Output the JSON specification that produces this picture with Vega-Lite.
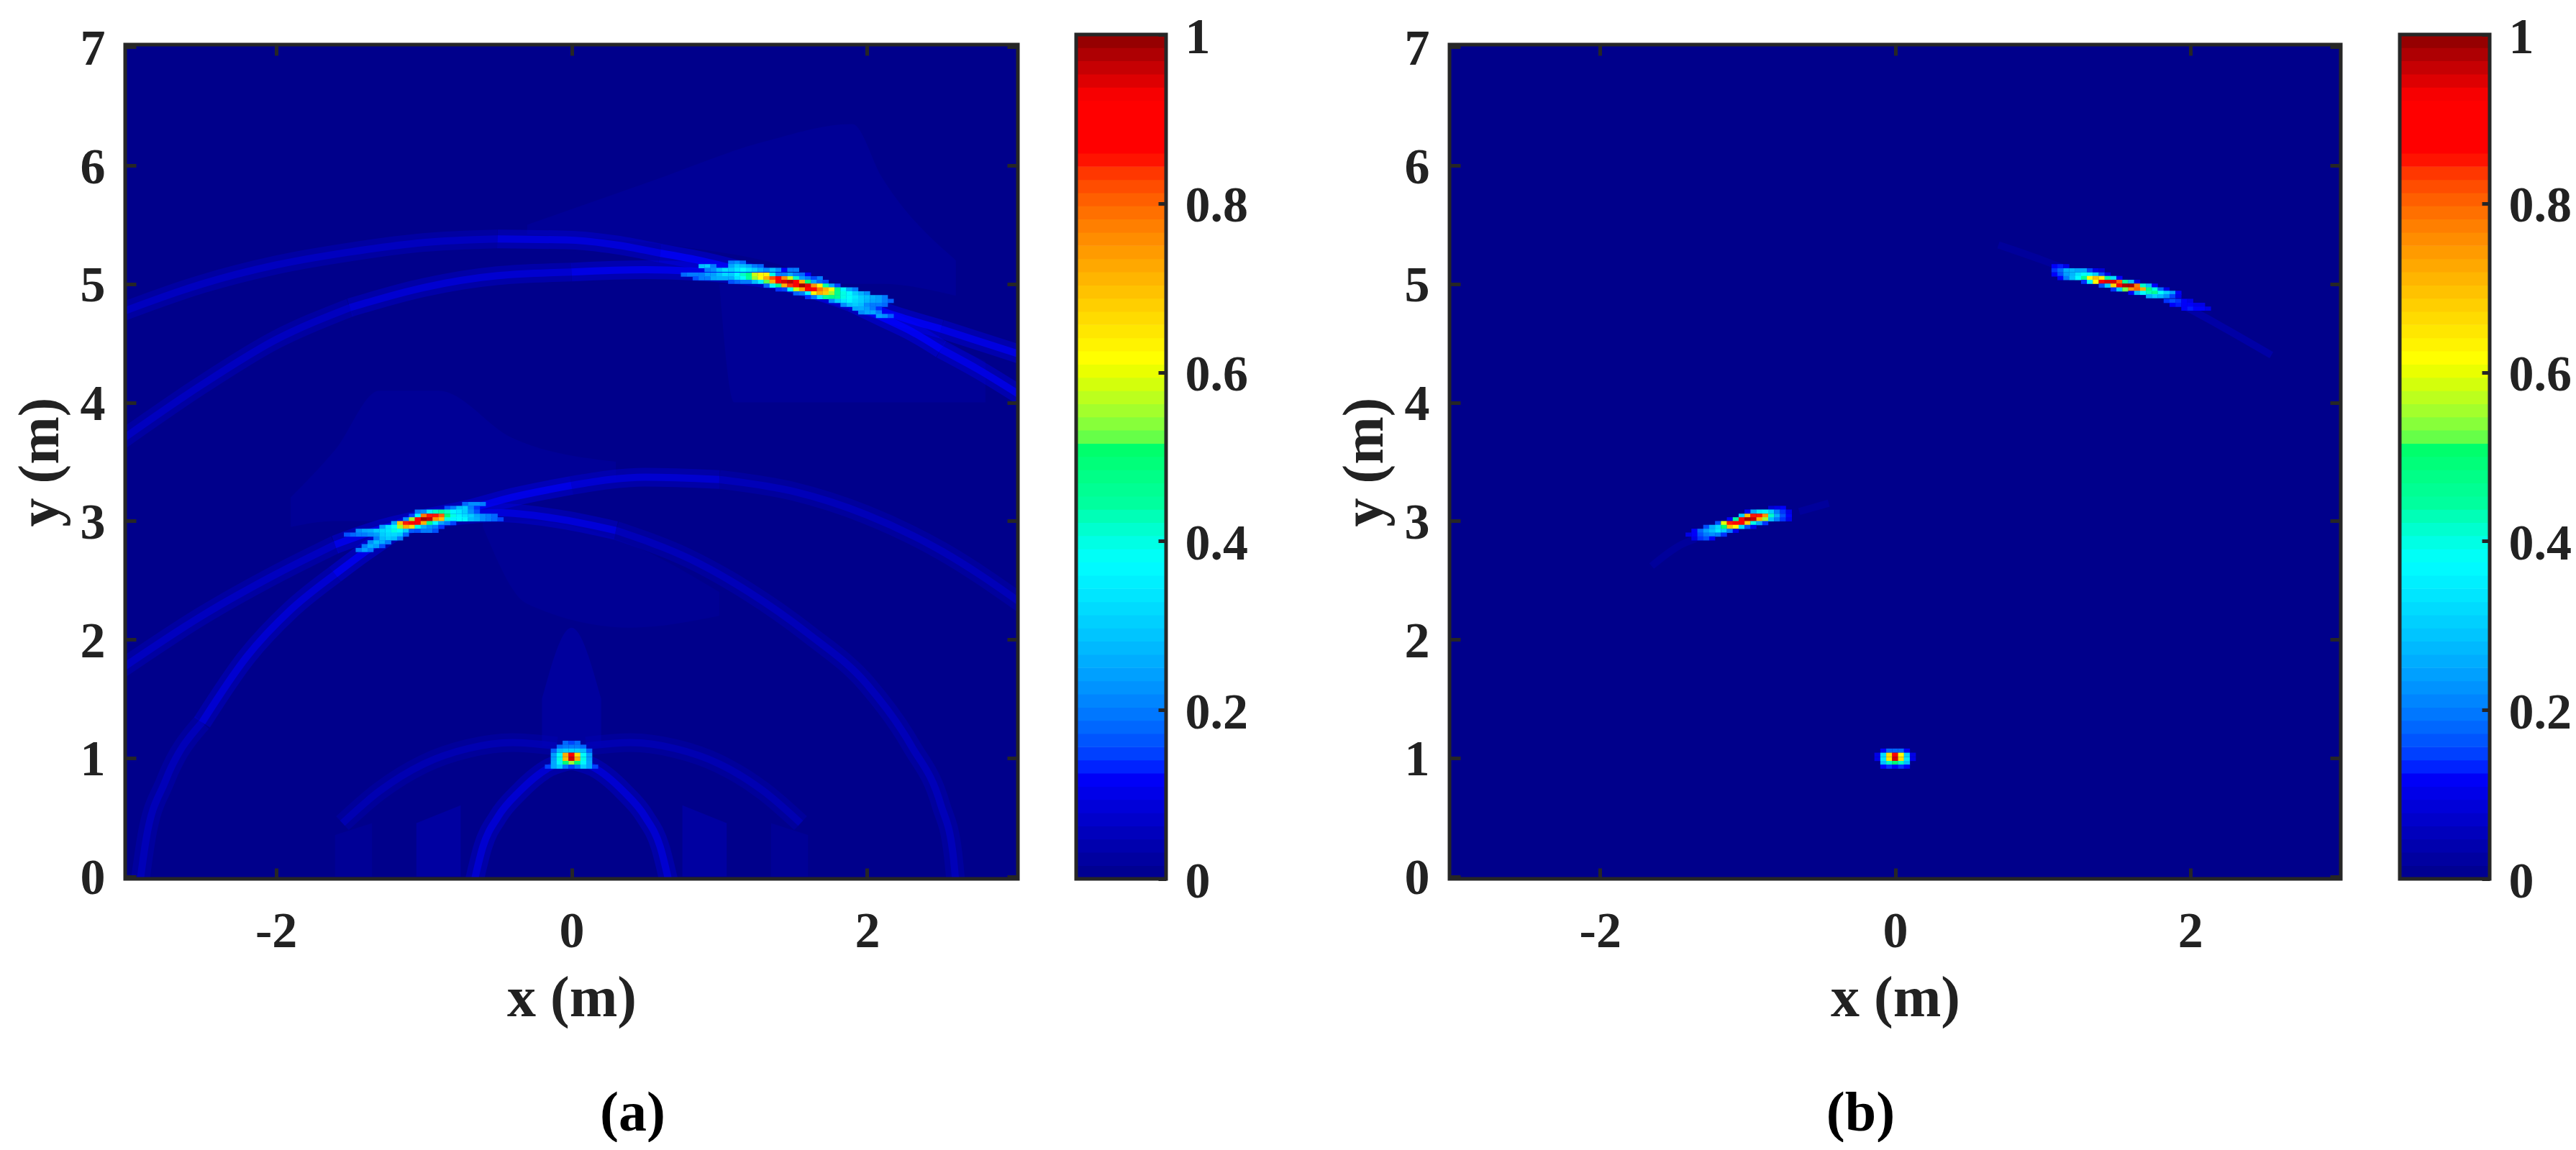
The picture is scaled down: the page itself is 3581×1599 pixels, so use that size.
{
"$schema":"https://vega.github.io/schema/vega-lite/v6.json",
"background":"white",
"padding":{"left":16,"top":17,"right":0,"bottom":0},
"config":{"view":{"stroke":null},
 "axis":{"labelFont":"Liberation Serif","labelFontWeight":"bold","labelFontSize":70,"labelColor":"#222222","titleFont":"Liberation Serif","titleFontWeight":"bold","titleFontSize":80,"titleColor":"#222222","grid":false,"domain":false,"tickColor":"#262626","tickWidth":5,"tickSize":-15,"labelExpr":"''+datum.value"}},
"datasets":{
"box":[{"x":-3.02,"x2":3.02,"y":-0.02,"y2":7.02,"v":0}],
"barbox":[{"lo":0,"hi":1}],
"bands":[{"v":0.0078},{"v":0.0234},{"v":0.0391},{"v":0.0547},{"v":0.0703},{"v":0.0859},{"v":0.1016},{"v":0.1172},{"v":0.1328},{"v":0.1484},{"v":0.1641},{"v":0.1797},{"v":0.1953},{"v":0.2109},{"v":0.2266},{"v":0.2422},{"v":0.2578},{"v":0.2734},{"v":0.2891},{"v":0.3047},{"v":0.3203},{"v":0.3359},{"v":0.3516},{"v":0.3672},{"v":0.3828},{"v":0.3984},{"v":0.4141},{"v":0.4297},{"v":0.4453},{"v":0.4609},{"v":0.4766},{"v":0.4922},{"v":0.5078},{"v":0.5234},{"v":0.5391},{"v":0.5547},{"v":0.5703},{"v":0.5859},{"v":0.6016},{"v":0.6172},{"v":0.6328},{"v":0.6484},{"v":0.6641},{"v":0.6797},{"v":0.6953},{"v":0.7109},{"v":0.7266},{"v":0.7422},{"v":0.7578},{"v":0.7734},{"v":0.7891},{"v":0.8047},{"v":0.8203},{"v":0.8359},{"v":0.8516},{"v":0.8672},{"v":0.8828},{"v":0.8984},{"v":0.9141},{"v":0.9297},{"v":0.9453},{"v":0.9609},{"v":0.9766},{"v":0.9922}],
"hazeA":[
{"g":"h1","x":-0.3,"y":5.42,"y2":5.5,"v":0.012},{"g":"h1","x":0.5,"y":5.35,"y2":5.85,"v":0.012},{"g":"h1","x":1.3,"y":5.2,"y2":6.2,"v":0.012},{"g":"h1","x":1.9,"y":5,"y2":6.35,"v":0.012},{"g":"h1","x":2.1,"y":5,"y2":5.9,"v":0.012},{"g":"h1","x":2.6,"y":4.9,"y2":5.2,"v":0.012},
{"g":"h2","x":1,"y":5,"y2":5,"v":0.012},{"g":"h2","x":1.1,"y":4,"y2":5,"v":0.012},{"g":"h2","x":1.9,"y":4,"y2":4.8,"v":0.012},{"g":"h2","x":2.8,"y":4,"y2":4.35,"v":0.012},
{"g":"h3","x":-1.9,"y":2.95,"y2":3.2,"v":0.012},{"g":"h3","x":-1.6,"y":3,"y2":3.6,"v":0.012},{"g":"h3","x":-1.3,"y":3,"y2":4.1,"v":0.012},{"g":"h3","x":-0.9,"y":3.05,"y2":4.1,"v":0.012},{"g":"h3","x":-0.4,"y":3.2,"y2":3.7,"v":0.012},{"g":"h3","x":0.3,"y":3.35,"y2":3.5,"v":0.012},
{"g":"h4","x":-0.6,"y":2.95,"y2":3,"v":0.01},{"g":"h4","x":-0.3,"y":2.3,"y2":3,"v":0.01},{"g":"h4","x":0.4,"y":2.1,"y2":2.8,"v":0.01},{"g":"h4","x":1,"y":2.2,"y2":2.4,"v":0.01},
{"g":"h5","x":-0.2,"y":1.1,"y2":1.5,"v":0.02},{"g":"h5","x":0,"y":1.1,"y2":2.1,"v":0.02},{"g":"h5","x":0.2,"y":1.1,"y2":1.5,"v":0.02},
{"g":"h6","x":-1.05,"y":0,"y2":0.45,"v":0.025},{"g":"h6","x":-0.75,"y":0,"y2":0.6,"v":0.025},
{"g":"h7","x":0.75,"y":0,"y2":0.6,"v":0.025},{"g":"h7","x":1.05,"y":0,"y2":0.45,"v":0.025},
{"g":"h8","x":-1.6,"y":0,"y2":0.35,"v":0.012},{"g":"h8","x":-1.35,"y":0,"y2":0.45,"v":0.012},
{"g":"h9","x":1.35,"y":0,"y2":0.45,"v":0.012},{"g":"h9","x":1.6,"y":0,"y2":0.35,"v":0.012}
],
"arcsA":[
{"arc":"A1","x":-3.05,"y":4.76,"v":0.07},{"arc":"A1","x":-2.5,"y":5,"v":0.07},{"arc":"A1","x":-2,"y":5.16,"v":0.07},{"arc":"A1","x":-1.5,"y":5.27,"v":0.07},{"arc":"A1","x":-1,"y":5.35,"v":0.07},{"arc":"A1","x":-0.5,"y":5.38,"v":0.07},
{"arc":"A2","x":-0.5,"y":5.38,"v":0.1},{"arc":"A2","x":0,"y":5.37,"v":0.1},{"arc":"A2","x":0.3,"y":5.33,"v":0.1},{"arc":"A2","x":0.6,"y":5.26,"v":0.1},
{"arc":"A3","x":0.6,"y":5.26,"v":0.125},{"arc":"A3","x":0.9,"y":5.19,"v":0.125},{"arc":"A3","x":1.1,"y":5.13,"v":0.125},{"arc":"A3","x":1.5,"y":5,"v":0.125},{"arc":"A3","x":1.9,"y":4.86,"v":0.125},
{"arc":"A4","x":1.9,"y":4.86,"v":0.125},{"arc":"A4","x":2.2,"y":4.73,"v":0.125},{"arc":"A4","x":2.5,"y":4.62,"v":0.125},
{"arc":"A5","x":2.5,"y":4.62,"v":0.11},{"arc":"A5","x":2.75,"y":4.52,"v":0.11},{"arc":"A5","x":3.05,"y":4.4,"v":0.11},
{"arc":"B1","x":-3.05,"y":3.68,"v":0.07},{"arc":"B1","x":-2.5,"y":4.15,"v":0.07},{"arc":"B1","x":-2,"y":4.53,"v":0.07},{"arc":"B1","x":-1.5,"y":4.8,"v":0.07},
{"arc":"B2","x":-1.5,"y":4.8,"v":0.09},{"arc":"B2","x":-1,"y":4.97,"v":0.09},{"arc":"B2","x":-0.5,"y":5.07,"v":0.09},{"arc":"B2","x":0,"y":5.1,"v":0.09},
{"arc":"B3","x":0,"y":5.1,"v":0.115},{"arc":"B3","x":0.5,"y":5.12,"v":0.115},{"arc":"B3","x":0.8,"y":5.11,"v":0.115},{"arc":"B3","x":1.1,"y":5.08,"v":0.115},{"arc":"B3","x":1.5,"y":5,"v":0.115},{"arc":"B3","x":1.9,"y":4.84,"v":0.115},
{"arc":"B4","x":1.9,"y":4.84,"v":0.125},{"arc":"B4","x":2.1,"y":4.72,"v":0.125},{"arc":"B4","x":2.3,"y":4.6,"v":0.125},{"arc":"B4","x":2.5,"y":4.45,"v":0.125},
{"arc":"B5","x":2.5,"y":4.45,"v":0.11},{"arc":"B5","x":2.75,"y":4.28,"v":0.11},{"arc":"B5","x":3.05,"y":4.05,"v":0.11},
{"arc":"C1","x":-3.05,"y":1.75,"v":0.07},{"arc":"C1","x":-2.5,"y":2.2,"v":0.07},{"arc":"C1","x":-2,"y":2.55,"v":0.07},{"arc":"C1","x":-1.6,"y":2.8,"v":0.07},
{"arc":"C2","x":-1.6,"y":2.8,"v":0.115},{"arc":"C2","x":-1.3,"y":2.93,"v":0.115},{"arc":"C2","x":-1,"y":3.02,"v":0.115},{"arc":"C2","x":-0.7,"y":3.1,"v":0.115},{"arc":"C2","x":-0.4,"y":3.2,"v":0.115},{"arc":"C2","x":0,"y":3.3,"v":0.115},
{"arc":"C3","x":0,"y":3.3,"v":0.09},{"arc":"C3","x":0.5,"y":3.37,"v":0.09},{"arc":"C3","x":1,"y":3.35,"v":0.09},
{"arc":"C4","x":1,"y":3.35,"v":0.06},{"arc":"C4","x":1.5,"y":3.25,"v":0.06},{"arc":"C4","x":2,"y":3.05,"v":0.06},{"arc":"C4","x":2.5,"y":2.75,"v":0.06},{"arc":"C4","x":3.05,"y":2.3,"v":0.06},
{"arc":"D1","x":-2.92,"y":-0.05,"v":0.06},{"arc":"D1","x":-2.88,"y":0.3,"v":0.06},{"arc":"D1","x":-2.75,"y":0.8,"v":0.06},{"arc":"D1","x":-2.5,"y":1.3,"v":0.06},
{"arc":"D2","x":-2.5,"y":1.3,"v":0.09},{"arc":"D2","x":-2.2,"y":1.85,"v":0.09},{"arc":"D2","x":-1.9,"y":2.25,"v":0.09},{"arc":"D2","x":-1.6,"y":2.55,"v":0.09},
{"arc":"D3","x":-1.6,"y":2.55,"v":0.12},{"arc":"D3","x":-1.35,"y":2.78,"v":0.12},{"arc":"D3","x":-1.1,"y":2.97,"v":0.12},{"arc":"D3","x":-0.8,"y":3.04,"v":0.12},
{"arc":"D4","x":-0.8,"y":3.04,"v":0.1},{"arc":"D4","x":-0.5,"y":3.07,"v":0.1},{"arc":"D4","x":-0.1,"y":3.02,"v":0.1},{"arc":"D4","x":0.3,"y":2.92,"v":0.1},
{"arc":"D5","x":0.3,"y":2.92,"v":0.06},{"arc":"D5","x":0.8,"y":2.68,"v":0.06},{"arc":"D5","x":1.2,"y":2.4,"v":0.06},{"arc":"D5","x":1.6,"y":2.05,"v":0.06},{"arc":"D5","x":2,"y":1.62,"v":0.06},{"arc":"D5","x":2.3,"y":1.1,"v":0.06},{"arc":"D5","x":2.5,"y":0.6,"v":0.06},{"arc":"D5","x":2.58,"y":0.2,"v":0.06},{"arc":"D5","x":2.6,"y":-0.05,"v":0.06},
{"arc":"E1","x":-0.66,"y":-0.05,"v":0.09},{"arc":"E1","x":-0.6,"y":0.25,"v":0.09},{"arc":"E1","x":-0.5,"y":0.5,"v":0.09},{"arc":"E1","x":-0.35,"y":0.72,"v":0.09},{"arc":"E1","x":-0.15,"y":0.92,"v":0.09},{"arc":"E1","x":0,"y":0.98,"v":0.09},
{"arc":"E2","x":0,"y":0.98,"v":0.09},{"arc":"E2","x":0.15,"y":0.92,"v":0.09},{"arc":"E2","x":0.35,"y":0.72,"v":0.09},{"arc":"E2","x":0.5,"y":0.5,"v":0.09},{"arc":"E2","x":0.6,"y":0.25,"v":0.09},{"arc":"E2","x":0.66,"y":-0.05,"v":0.09},
{"arc":"F1","x":-1.55,"y":0.45,"v":0.05},{"arc":"F1","x":-1.3,"y":0.72,"v":0.05},{"arc":"F1","x":-1,"y":0.95,"v":0.05},{"arc":"F1","x":-0.7,"y":1.08,"v":0.05},{"arc":"F1","x":-0.4,"y":1.13,"v":0.05},{"arc":"F1","x":-0.1,"y":1.1,"v":0.05},
{"arc":"F2","x":0.1,"y":1.1,"v":0.05},{"arc":"F2","x":0.4,"y":1.13,"v":0.05},{"arc":"F2","x":0.7,"y":1.08,"v":0.05},{"arc":"F2","x":1,"y":0.95,"v":0.05},{"arc":"F2","x":1.3,"y":0.72,"v":0.05},{"arc":"F2","x":1.55,"y":0.45,"v":0.05}
],
"arcsB":[
{"arc":"T1","x":0.7,"y":5.33,"v":0.03},{"arc":"T1","x":1,"y":5.2,"v":0.03},{"arc":"T1","x":1.15,"y":5.13,"v":0.03},
{"arc":"T2","x":1.95,"y":4.82,"v":0.05},{"arc":"T2","x":2.2,"y":4.65,"v":0.05},{"arc":"T2","x":2.55,"y":4.4,"v":0.05},
{"arc":"T3","x":-1.65,"y":2.62,"v":0.03},{"arc":"T3","x":-1.45,"y":2.8,"v":0.03},{"arc":"T3","x":-1.35,"y":2.85,"v":0.03},
{"arc":"T4","x":-0.65,"y":3.08,"v":0.03},{"arc":"T4","x":-0.45,"y":3.15,"v":0.03}
],
"cellsA":[
{"x":1.08,"y":5.18,"v":0.2},{"x":1.12,"y":5.18,"v":0.22},{"x":1.16,"y":5.18,"v":0.18},
{"x":0.88,"y":5.15,"v":0.28},{"x":0.92,"y":5.15,"v":0.3},{"x":0.96,"y":5.15,"v":0.2},{"x":1.08,"y":5.15,"v":0.25},{"x":1.12,"y":5.15,"v":0.3},{"x":1.16,"y":5.15,"v":0.28},{"x":1.2,"y":5.15,"v":0.25},{"x":1.24,"y":5.15,"v":0.2},{"x":1.28,"y":5.15,"v":0.18},
{"x":0.92,"y":5.119,"v":0.2},{"x":0.96,"y":5.119,"v":0.22},{"x":1,"y":5.119,"v":0.28},{"x":1.04,"y":5.119,"v":0.32},{"x":1.08,"y":5.119,"v":0.3},{"x":1.12,"y":5.119,"v":0.34},{"x":1.16,"y":5.119,"v":0.37},{"x":1.2,"y":5.119,"v":0.33},{"x":1.24,"y":5.119,"v":0.3},{"x":1.28,"y":5.119,"v":0.26},{"x":1.32,"y":5.119,"v":0.22},{"x":1.36,"y":5.119,"v":0.28},{"x":1.4,"y":5.119,"v":0.22},{"x":1.44,"y":5.119,"v":0.12},{"x":1.48,"y":5.119,"v":0.2},{"x":1.52,"y":5.119,"v":0.2},
{"x":0.76,"y":5.079,"v":0.18},{"x":0.8,"y":5.079,"v":0.2},{"x":0.84,"y":5.079,"v":0.2},{"x":0.88,"y":5.079,"v":0.2},{"x":0.92,"y":5.079,"v":0.24},{"x":0.96,"y":5.079,"v":0.24},{"x":1,"y":5.079,"v":0.28},{"x":1.04,"y":5.079,"v":0.32},{"x":1.08,"y":5.079,"v":0.3},{"x":1.12,"y":5.079,"v":0.36},{"x":1.16,"y":5.079,"v":0.42},{"x":1.2,"y":5.079,"v":0.47},{"x":1.24,"y":5.079,"v":0.58},{"x":1.28,"y":5.079,"v":0.63},{"x":1.32,"y":5.079,"v":0.63},{"x":1.36,"y":5.079,"v":0.4},{"x":1.4,"y":5.079,"v":0.2},{"x":1.44,"y":5.079,"v":0.2},{"x":1.48,"y":5.079,"v":0.25},{"x":1.52,"y":5.079,"v":0.2},{"x":1.56,"y":5.079,"v":0.18},{"x":1.6,"y":5.079,"v":0.12},
{"x":0.84,"y":5.048,"v":0.16},{"x":0.88,"y":5.048,"v":0.2},{"x":0.92,"y":5.048,"v":0.2},{"x":0.96,"y":5.048,"v":0.25},{"x":1,"y":5.048,"v":0.26},{"x":1.04,"y":5.048,"v":0.26},{"x":1.08,"y":5.048,"v":0.26},{"x":1.12,"y":5.048,"v":0.33},{"x":1.16,"y":5.048,"v":0.38},{"x":1.2,"y":5.048,"v":0.45},{"x":1.24,"y":5.048,"v":0.55},{"x":1.28,"y":5.048,"v":0.62},{"x":1.32,"y":5.048,"v":0.72},{"x":1.36,"y":5.048,"v":0.82},{"x":1.4,"y":5.048,"v":0.87},{"x":1.44,"y":5.048,"v":0.76},{"x":1.48,"y":5.048,"v":0.58},{"x":1.52,"y":5.048,"v":0.42},{"x":1.56,"y":5.048,"v":0.24},{"x":1.6,"y":5.048,"v":0.2},{"x":1.64,"y":5.048,"v":0.15},{"x":1.68,"y":5.048,"v":0.2},
{"x":1.08,"y":5.018,"v":0.16},{"x":1.12,"y":5.018,"v":0.18},{"x":1.16,"y":5.018,"v":0.2},{"x":1.2,"y":5.018,"v":0.2},{"x":1.24,"y":5.018,"v":0.28},{"x":1.28,"y":5.018,"v":0.36},{"x":1.32,"y":5.018,"v":0.52},{"x":1.36,"y":5.018,"v":0.72},{"x":1.4,"y":5.018,"v":0.88},{"x":1.44,"y":5.018,"v":0.95},{"x":1.48,"y":5.018,"v":0.97},{"x":1.52,"y":5.018,"v":0.9},{"x":1.56,"y":5.018,"v":0.72},{"x":1.6,"y":5.018,"v":0.5},{"x":1.64,"y":5.018,"v":0.25},{"x":1.68,"y":5.018,"v":0.18},{"x":1.72,"y":5.018,"v":0.15},
{"x":1.32,"y":4.986,"v":0.18},{"x":1.36,"y":4.986,"v":0.36},{"x":1.4,"y":4.986,"v":0.47},{"x":1.44,"y":4.986,"v":0.72},{"x":1.48,"y":4.986,"v":0.84},{"x":1.52,"y":4.986,"v":0.92},{"x":1.56,"y":4.986,"v":0.99},{"x":1.6,"y":4.986,"v":0.94},{"x":1.64,"y":4.986,"v":0.75},{"x":1.68,"y":4.986,"v":0.63},{"x":1.72,"y":4.986,"v":0.44},{"x":1.76,"y":4.986,"v":0.25},{"x":1.8,"y":4.986,"v":0.15},
{"x":1.4,"y":4.954,"v":0.14},{"x":1.44,"y":4.954,"v":0.15},{"x":1.48,"y":4.954,"v":0.38},{"x":1.52,"y":4.954,"v":0.58},{"x":1.56,"y":4.954,"v":0.74},{"x":1.6,"y":4.954,"v":0.86},{"x":1.64,"y":4.954,"v":0.91},{"x":1.68,"y":4.954,"v":0.78},{"x":1.72,"y":4.954,"v":0.71},{"x":1.76,"y":4.954,"v":0.63},{"x":1.8,"y":4.954,"v":0.48},{"x":1.84,"y":4.954,"v":0.36},{"x":1.88,"y":4.954,"v":0.25},{"x":1.92,"y":4.954,"v":0.2},
{"x":1.52,"y":4.921,"v":0.18},{"x":1.56,"y":4.921,"v":0.2},{"x":1.6,"y":4.921,"v":0.36},{"x":1.64,"y":4.921,"v":0.63},{"x":1.68,"y":4.921,"v":0.72},{"x":1.72,"y":4.921,"v":0.68},{"x":1.76,"y":4.921,"v":0.55},{"x":1.8,"y":4.921,"v":0.47},{"x":1.84,"y":4.921,"v":0.4},{"x":1.88,"y":4.921,"v":0.37},{"x":1.92,"y":4.921,"v":0.3},{"x":1.96,"y":4.921,"v":0.26},{"x":2,"y":4.921,"v":0.22},
{"x":1.6,"y":4.889,"v":0.14},{"x":1.64,"y":4.889,"v":0.2},{"x":1.68,"y":4.889,"v":0.34},{"x":1.72,"y":4.889,"v":0.45},{"x":1.76,"y":4.889,"v":0.48},{"x":1.8,"y":4.889,"v":0.46},{"x":1.84,"y":4.889,"v":0.4},{"x":1.88,"y":4.889,"v":0.38},{"x":1.92,"y":4.889,"v":0.34},{"x":1.96,"y":4.889,"v":0.3},{"x":2,"y":4.889,"v":0.28},{"x":2.04,"y":4.889,"v":0.26},{"x":2.08,"y":4.889,"v":0.24},{"x":2.12,"y":4.889,"v":0.2},
{"x":1.76,"y":4.857,"v":0.22},{"x":1.8,"y":4.857,"v":0.3},{"x":1.84,"y":4.857,"v":0.34},{"x":1.88,"y":4.857,"v":0.36},{"x":1.92,"y":4.857,"v":0.32},{"x":1.96,"y":4.857,"v":0.3},{"x":2,"y":4.857,"v":0.27},{"x":2.04,"y":4.857,"v":0.25},{"x":2.08,"y":4.857,"v":0.24},{"x":2.12,"y":4.857,"v":0.2},{"x":2.16,"y":4.857,"v":0.17},
{"x":1.84,"y":4.824,"v":0.22},{"x":1.88,"y":4.824,"v":0.28},{"x":1.92,"y":4.824,"v":0.3},{"x":1.96,"y":4.824,"v":0.28},{"x":2,"y":4.824,"v":0.22},{"x":2.04,"y":4.824,"v":0.2},{"x":2.08,"y":4.824,"v":0.2},{"x":2.12,"y":4.824,"v":0.18},
{"x":1.92,"y":4.792,"v":0.25},{"x":1.96,"y":4.792,"v":0.26},{"x":2,"y":4.792,"v":0.24},{"x":2.04,"y":4.792,"v":0.2},{"x":2.08,"y":4.792,"v":0.14},
{"x":1.96,"y":4.76,"v":0.22},{"x":2,"y":4.76,"v":0.25},{"x":2.04,"y":4.76,"v":0.25},{"x":2.08,"y":4.76,"v":0.2},
{"x":2.08,"y":4.73,"v":0.24},{"x":2.12,"y":4.73,"v":0.22},{"x":2.16,"y":4.73,"v":0.17},
{"x":-0.72,"y":3.143,"v":0.18},{"x":-0.68,"y":3.143,"v":0.22},{"x":-0.64,"y":3.143,"v":0.22},{"x":-0.6,"y":3.143,"v":0.2},
{"x":-0.84,"y":3.11,"v":0.16},{"x":-0.8,"y":3.11,"v":0.2},{"x":-0.76,"y":3.11,"v":0.28},{"x":-0.72,"y":3.11,"v":0.3},{"x":-0.68,"y":3.11,"v":0.2},{"x":-0.64,"y":3.11,"v":0.14},
{"x":-1.04,"y":3.079,"v":0.2},{"x":-1,"y":3.079,"v":0.22},{"x":-0.96,"y":3.079,"v":0.35},{"x":-0.92,"y":3.079,"v":0.42},{"x":-0.88,"y":3.079,"v":0.45},{"x":-0.84,"y":3.079,"v":0.42},{"x":-0.8,"y":3.079,"v":0.36},{"x":-0.76,"y":3.079,"v":0.34},{"x":-0.72,"y":3.079,"v":0.3},{"x":-0.68,"y":3.079,"v":0.22},{"x":-0.64,"y":3.079,"v":0.16},
{"x":-1.08,"y":3.044,"v":0.15},{"x":-1.04,"y":3.044,"v":0.37},{"x":-1,"y":3.044,"v":0.78},{"x":-0.96,"y":3.044,"v":0.85},{"x":-0.92,"y":3.044,"v":0.85},{"x":-0.88,"y":3.044,"v":0.8},{"x":-0.84,"y":3.044,"v":0.5},{"x":-0.8,"y":3.044,"v":0.4},{"x":-0.76,"y":3.044,"v":0.36},{"x":-0.72,"y":3.044,"v":0.33},{"x":-0.68,"y":3.044,"v":0.3},{"x":-0.64,"y":3.044,"v":0.25},{"x":-0.6,"y":3.044,"v":0.22},{"x":-0.56,"y":3.044,"v":0.2},{"x":-0.52,"y":3.044,"v":0.18},
{"x":-1.12,"y":3.014,"v":0.22},{"x":-1.08,"y":3.014,"v":0.55},{"x":-1.04,"y":3.014,"v":0.92},{"x":-1,"y":3.014,"v":0.98},{"x":-0.96,"y":3.014,"v":0.96},{"x":-0.92,"y":3.014,"v":0.75},{"x":-0.88,"y":3.014,"v":0.7},{"x":-0.84,"y":3.014,"v":0.4},{"x":-0.8,"y":3.014,"v":0.36},{"x":-0.76,"y":3.014,"v":0.37},{"x":-0.72,"y":3.014,"v":0.36},{"x":-0.68,"y":3.014,"v":0.28},{"x":-0.64,"y":3.014,"v":0.26},{"x":-0.6,"y":3.014,"v":0.22},{"x":-0.56,"y":3.014,"v":0.2},{"x":-0.52,"y":3.014,"v":0.18},{"x":-0.48,"y":3.014,"v":0.15},
{"x":-1.2,"y":2.982,"v":0.25},{"x":-1.16,"y":2.982,"v":0.7},{"x":-1.12,"y":2.982,"v":0.85},{"x":-1.08,"y":2.982,"v":0.88},{"x":-1.04,"y":2.982,"v":0.92},{"x":-1,"y":2.982,"v":0.72},{"x":-0.96,"y":2.982,"v":0.48},{"x":-0.92,"y":2.982,"v":0.37},{"x":-0.88,"y":2.982,"v":0.25},{"x":-0.84,"y":2.982,"v":0.2},{"x":-0.8,"y":2.982,"v":0.15},
{"x":-1.28,"y":2.95,"v":0.24},{"x":-1.24,"y":2.95,"v":0.33},{"x":-1.2,"y":2.95,"v":0.38},{"x":-1.16,"y":2.95,"v":0.55},{"x":-1.12,"y":2.95,"v":0.72},{"x":-1.08,"y":2.95,"v":0.66},{"x":-1.04,"y":2.95,"v":0.4},{"x":-1,"y":2.95,"v":0.26},{"x":-0.96,"y":2.95,"v":0.22},{"x":-0.92,"y":2.95,"v":0.2},{"x":-0.88,"y":2.95,"v":0.14},
{"x":-1.44,"y":2.917,"v":0.22},{"x":-1.4,"y":2.917,"v":0.25},{"x":-1.36,"y":2.917,"v":0.26},{"x":-1.32,"y":2.917,"v":0.3},{"x":-1.28,"y":2.917,"v":0.32},{"x":-1.24,"y":2.917,"v":0.34},{"x":-1.2,"y":2.917,"v":0.4},{"x":-1.16,"y":2.917,"v":0.38},{"x":-1.12,"y":2.917,"v":0.3},{"x":-1.08,"y":2.917,"v":0.17},{"x":-1.04,"y":2.917,"v":0.16},{"x":-1,"y":2.917,"v":0.2},{"x":-0.96,"y":2.917,"v":0.2},{"x":-0.92,"y":2.917,"v":0.16},
{"x":-1.52,"y":2.885,"v":0.16},{"x":-1.48,"y":2.885,"v":0.18},{"x":-1.44,"y":2.885,"v":0.2},{"x":-1.4,"y":2.885,"v":0.2},{"x":-1.36,"y":2.885,"v":0.22},{"x":-1.32,"y":2.885,"v":0.24},{"x":-1.28,"y":2.885,"v":0.3},{"x":-1.24,"y":2.885,"v":0.32},{"x":-1.2,"y":2.885,"v":0.32},{"x":-1.16,"y":2.885,"v":0.3},{"x":-1.12,"y":2.885,"v":0.18},
{"x":-1.32,"y":2.853,"v":0.2},{"x":-1.28,"y":2.853,"v":0.28},{"x":-1.24,"y":2.853,"v":0.3},{"x":-1.2,"y":2.853,"v":0.28},{"x":-1.16,"y":2.853,"v":0.2},
{"x":-1.36,"y":2.82,"v":0.22},{"x":-1.32,"y":2.82,"v":0.28},{"x":-1.28,"y":2.82,"v":0.26},{"x":-1.24,"y":2.82,"v":0.2},
{"x":-1.4,"y":2.788,"v":0.2},{"x":-1.36,"y":2.788,"v":0.26},{"x":-1.32,"y":2.788,"v":0.24},{"x":-1.28,"y":2.788,"v":0.16},
{"x":-1.44,"y":2.755,"v":0.2},{"x":-1.4,"y":2.755,"v":0.24},{"x":-1.36,"y":2.755,"v":0.2},
{"x":-0.04,"y":1.128,"v":0.18},{"x":0,"y":1.128,"v":0.15},{"x":0.04,"y":1.128,"v":0.18},
{"x":-0.08,"y":1.095,"v":0.18},{"x":-0.04,"y":1.095,"v":0.2},{"x":0,"y":1.095,"v":0.2},{"x":0.04,"y":1.095,"v":0.2},{"x":0.08,"y":1.095,"v":0.18},
{"x":-0.12,"y":1.062,"v":0.17},{"x":-0.08,"y":1.062,"v":0.28},{"x":-0.04,"y":1.062,"v":0.3},{"x":0,"y":1.062,"v":0.3},{"x":0.04,"y":1.062,"v":0.3},{"x":0.08,"y":1.062,"v":0.28},{"x":0.12,"y":1.062,"v":0.17},
{"x":-0.12,"y":1.027,"v":0.24},{"x":-0.08,"y":1.027,"v":0.38},{"x":-0.04,"y":1.027,"v":0.72},{"x":0,"y":1.027,"v":0.9},{"x":0.04,"y":1.027,"v":0.66},{"x":0.08,"y":1.027,"v":0.38},{"x":0.12,"y":1.027,"v":0.24},
{"x":-0.12,"y":0.992,"v":0.24},{"x":-0.08,"y":0.992,"v":0.4},{"x":-0.04,"y":0.992,"v":0.7},{"x":0,"y":0.992,"v":0.95},{"x":0.04,"y":0.992,"v":0.72},{"x":0.08,"y":0.992,"v":0.4},{"x":0.12,"y":0.992,"v":0.24},
{"x":-0.12,"y":0.958,"v":0.25},{"x":-0.08,"y":0.958,"v":0.36},{"x":-0.04,"y":0.958,"v":0.5},{"x":0,"y":0.958,"v":0.55},{"x":0.04,"y":0.958,"v":0.5},{"x":0.08,"y":0.958,"v":0.36},{"x":0.12,"y":0.958,"v":0.25},
{"x":-0.16,"y":0.927,"v":0.15},{"x":-0.12,"y":0.927,"v":0.25},{"x":-0.08,"y":0.927,"v":0.3},{"x":-0.04,"y":0.927,"v":0.2},{"x":0,"y":0.927,"v":0.15},{"x":0.04,"y":0.927,"v":0.2},{"x":0.08,"y":0.927,"v":0.3},{"x":0.12,"y":0.927,"v":0.25},{"x":0.16,"y":0.927,"v":0.15}
],
"cellsB":[
{"x":1.08,"y":5.15,"v":0.12},{"x":1.12,"y":5.15,"v":0.13},{"x":1.16,"y":5.15,"v":0.1},
{"x":1.08,"y":5.115,"v":0.14},{"x":1.12,"y":5.115,"v":0.18},{"x":1.16,"y":5.115,"v":0.26},{"x":1.2,"y":5.115,"v":0.27},{"x":1.24,"y":5.115,"v":0.25},{"x":1.28,"y":5.115,"v":0.25},{"x":1.32,"y":5.115,"v":0.15},{"x":1.36,"y":5.115,"v":0.1},{"x":1.4,"y":5.115,"v":0.08},
{"x":1.08,"y":5.08,"v":0.12},{"x":1.12,"y":5.08,"v":0.16},{"x":1.16,"y":5.08,"v":0.24},{"x":1.2,"y":5.08,"v":0.27},{"x":1.24,"y":5.08,"v":0.33},{"x":1.28,"y":5.08,"v":0.38},{"x":1.32,"y":5.08,"v":0.36},{"x":1.36,"y":5.08,"v":0.3},{"x":1.4,"y":5.08,"v":0.16},{"x":1.44,"y":5.08,"v":0.1},
{"x":1.12,"y":5.05,"v":0.12},{"x":1.16,"y":5.05,"v":0.2},{"x":1.2,"y":5.05,"v":0.28},{"x":1.24,"y":5.05,"v":0.37},{"x":1.28,"y":5.05,"v":0.46},{"x":1.32,"y":5.05,"v":0.62},{"x":1.36,"y":5.05,"v":0.7},{"x":1.4,"y":5.05,"v":0.64},{"x":1.44,"y":5.05,"v":0.45},{"x":1.48,"y":5.05,"v":0.32},{"x":1.52,"y":5.05,"v":0.12},
{"x":1.28,"y":5.018,"v":0.14},{"x":1.32,"y":5.018,"v":0.38},{"x":1.36,"y":5.018,"v":0.62},{"x":1.4,"y":5.018,"v":0.86},{"x":1.44,"y":5.018,"v":0.95},{"x":1.48,"y":5.018,"v":0.95},{"x":1.52,"y":5.018,"v":0.8},{"x":1.56,"y":5.018,"v":0.46},{"x":1.6,"y":5.018,"v":0.28},{"x":1.64,"y":5.018,"v":0.1},
{"x":1.4,"y":4.986,"v":0.16},{"x":1.44,"y":4.986,"v":0.3},{"x":1.48,"y":4.986,"v":0.67},{"x":1.52,"y":4.986,"v":0.88},{"x":1.56,"y":4.986,"v":0.98},{"x":1.6,"y":4.986,"v":0.98},{"x":1.64,"y":4.986,"v":0.78},{"x":1.68,"y":4.986,"v":0.42},{"x":1.72,"y":4.986,"v":0.28},{"x":1.76,"y":4.986,"v":0.12},
{"x":1.48,"y":4.954,"v":0.14},{"x":1.52,"y":4.954,"v":0.3},{"x":1.56,"y":4.954,"v":0.53},{"x":1.6,"y":4.954,"v":0.75},{"x":1.64,"y":4.954,"v":0.8},{"x":1.68,"y":4.954,"v":0.72},{"x":1.72,"y":4.954,"v":0.48},{"x":1.76,"y":4.954,"v":0.4},{"x":1.8,"y":4.954,"v":0.18},{"x":1.84,"y":4.954,"v":0.1},
{"x":1.6,"y":4.925,"v":0.12},{"x":1.64,"y":4.925,"v":0.28},{"x":1.68,"y":4.925,"v":0.37},{"x":1.72,"y":4.925,"v":0.43},{"x":1.76,"y":4.925,"v":0.46},{"x":1.8,"y":4.925,"v":0.38},{"x":1.84,"y":4.925,"v":0.3},{"x":1.88,"y":4.925,"v":0.24},{"x":1.92,"y":4.925,"v":0.12},
{"x":1.72,"y":4.897,"v":0.26},{"x":1.76,"y":4.897,"v":0.3},{"x":1.8,"y":4.897,"v":0.27},{"x":1.84,"y":4.897,"v":0.22},{"x":1.88,"y":4.897,"v":0.15},{"x":1.92,"y":4.897,"v":0.1},
{"x":1.84,"y":4.857,"v":0.14},{"x":1.88,"y":4.857,"v":0.16},{"x":1.92,"y":4.857,"v":0.14},{"x":1.96,"y":4.857,"v":0.12},{"x":2,"y":4.857,"v":0.1},
{"x":1.88,"y":4.824,"v":0.12},{"x":1.92,"y":4.824,"v":0.13},{"x":1.96,"y":4.824,"v":0.12},{"x":2,"y":4.824,"v":0.12},{"x":2.04,"y":4.824,"v":0.1},{"x":2.08,"y":4.824,"v":0.1},
{"x":1.96,"y":4.792,"v":0.12},{"x":2,"y":4.792,"v":0.13},{"x":2.04,"y":4.792,"v":0.12},{"x":2.08,"y":4.792,"v":0.12},{"x":2.12,"y":4.792,"v":0.1},
{"x":-0.84,"y":3.11,"v":0.08},{"x":-0.8,"y":3.11,"v":0.1},{"x":-0.76,"y":3.11,"v":0.12},
{"x":-1,"y":3.079,"v":0.12},{"x":-0.96,"y":3.079,"v":0.26},{"x":-0.92,"y":3.079,"v":0.34},{"x":-0.88,"y":3.079,"v":0.36},{"x":-0.84,"y":3.079,"v":0.3},{"x":-0.8,"y":3.079,"v":0.2},{"x":-0.76,"y":3.079,"v":0.14},{"x":-0.72,"y":3.079,"v":0.1},
{"x":-1.04,"y":3.044,"v":0.3},{"x":-1,"y":3.044,"v":0.7},{"x":-0.96,"y":3.044,"v":0.85},{"x":-0.92,"y":3.044,"v":0.85},{"x":-0.88,"y":3.044,"v":0.75},{"x":-0.84,"y":3.044,"v":0.42},{"x":-0.8,"y":3.044,"v":0.26},{"x":-0.76,"y":3.044,"v":0.16},{"x":-0.72,"y":3.044,"v":0.12},
{"x":-1.12,"y":3.014,"v":0.12},{"x":-1.08,"y":3.014,"v":0.45},{"x":-1.04,"y":3.014,"v":0.9},{"x":-1,"y":3.014,"v":0.98},{"x":-0.96,"y":3.014,"v":0.96},{"x":-0.92,"y":3.014,"v":0.72},{"x":-0.88,"y":3.014,"v":0.55},{"x":-0.84,"y":3.014,"v":0.28},{"x":-0.8,"y":3.014,"v":0.2},{"x":-0.76,"y":3.014,"v":0.14},{"x":-0.72,"y":3.014,"v":0.1},
{"x":-1.2,"y":2.982,"v":0.16},{"x":-1.16,"y":2.982,"v":0.6},{"x":-1.12,"y":2.982,"v":0.85},{"x":-1.08,"y":2.982,"v":0.88},{"x":-1.04,"y":2.982,"v":0.9},{"x":-1,"y":2.982,"v":0.68},{"x":-0.96,"y":2.982,"v":0.4},{"x":-0.92,"y":2.982,"v":0.25},{"x":-0.88,"y":2.982,"v":0.14},
{"x":-1.28,"y":2.95,"v":0.16},{"x":-1.24,"y":2.95,"v":0.26},{"x":-1.2,"y":2.95,"v":0.32},{"x":-1.16,"y":2.95,"v":0.5},{"x":-1.12,"y":2.95,"v":0.7},{"x":-1.08,"y":2.95,"v":0.62},{"x":-1.04,"y":2.95,"v":0.32},{"x":-1,"y":2.95,"v":0.16},{"x":-0.96,"y":2.95,"v":0.1},
{"x":-1.36,"y":2.917,"v":0.12},{"x":-1.32,"y":2.917,"v":0.18},{"x":-1.28,"y":2.917,"v":0.24},{"x":-1.24,"y":2.917,"v":0.28},{"x":-1.2,"y":2.917,"v":0.34},{"x":-1.16,"y":2.917,"v":0.3},{"x":-1.12,"y":2.917,"v":0.2},{"x":-1.08,"y":2.917,"v":0.1},
{"x":-1.4,"y":2.885,"v":0.1},{"x":-1.36,"y":2.885,"v":0.12},{"x":-1.32,"y":2.885,"v":0.16},{"x":-1.28,"y":2.885,"v":0.2},{"x":-1.24,"y":2.885,"v":0.22},{"x":-1.2,"y":2.885,"v":0.2},{"x":-1.16,"y":2.885,"v":0.14},
{"x":-1.36,"y":2.853,"v":0.1},{"x":-1.32,"y":2.853,"v":0.14},{"x":-1.28,"y":2.853,"v":0.16},{"x":-1.24,"y":2.853,"v":0.12},
{"x":-0.08,"y":1.062,"v":0.12},{"x":-0.04,"y":1.062,"v":0.18},{"x":0,"y":1.062,"v":0.18},{"x":0.04,"y":1.062,"v":0.18},{"x":0.08,"y":1.062,"v":0.12},
{"x":-0.12,"y":1.027,"v":0.1},{"x":-0.08,"y":1.027,"v":0.32},{"x":-0.04,"y":1.027,"v":0.66},{"x":0,"y":1.027,"v":0.88},{"x":0.04,"y":1.027,"v":0.62},{"x":0.08,"y":1.027,"v":0.3},{"x":0.12,"y":1.027,"v":0.1},
{"x":-0.12,"y":0.992,"v":0.1},{"x":-0.08,"y":0.992,"v":0.34},{"x":-0.04,"y":0.992,"v":0.65},{"x":0,"y":0.992,"v":0.95},{"x":0.04,"y":0.992,"v":0.66},{"x":0.08,"y":0.992,"v":0.34},{"x":0.12,"y":0.992,"v":0.1},
{"x":-0.08,"y":0.958,"v":0.28},{"x":-0.04,"y":0.958,"v":0.42},{"x":0,"y":0.958,"v":0.5},{"x":0.04,"y":0.958,"v":0.42},{"x":0.08,"y":0.958,"v":0.28},
{"x":-0.08,"y":0.927,"v":0.12},{"x":-0.04,"y":0.927,"v":0.14},{"x":0,"y":0.927,"v":0.12},{"x":0.04,"y":0.927,"v":0.14},{"x":0.08,"y":0.927,"v":0.12}
]
},
"spacing":1841,
"bounds":"flush",
"hconcat":[
{"spacing":81,"bounds":"flush","hconcat":[
 {"width":1241,"height":1174,
  "title":{"text":"(a)","orient":"bottom","anchor":"middle","dx":85,"offset":82,"font":"Liberation Serif","fontSize":78,"fontWeight":"bold","color":"#000000"},
  "encoding":{
   "x":{"field":"x","type":"quantitative","scale":{"domain":[-3.02,3.02],"nice":false,"zero":false},"axis":{"values":[-2,0,2],"title":"x (m)","labelPadding":54,"titlePadding":19,"zindex":1}},
   "y":{"field":"y","type":"quantitative","scale":{"domain":[-0.02,7.02],"range":[1174,14],"nice":false,"zero":false},"axis":{"values":[0,1,2,3,4,5,6,7],"title":"y (m)","labelPadding":43,"titlePadding":14,"labelOffset":3,"zindex":1}}
  },
  "resolve":{"axis":{"x":"independent","y":"independent"}},
  "layer":[
   {"encoding":{"color":{"field":"v","type":"quantitative","legend":null,"scale":{"domain":[0,0.125,0.375,0.443,0.514,0.515,0.617,0.855,0.925,1],"range":["#00008B","#0000FF","#00FFFF","#00FFA0","#00FF66","#50FF50","#FFFF00","#FF0000","#FF0000","#8B0000"]}}},
    "layer":[
     {"data":{"name":"box"},"mark":"rect","encoding":{"x2":{"field":"x2"},"y2":{"field":"y2"}}},
     {"data":{"name":"hazeA"},"mark":{"type":"area","clip":true,"interpolate":"monotone"},"encoding":{"y2":{"field":"y2"},"detail":{"field":"g"}}},
     {"data":{"name":"arcsA"},"mark":{"type":"line","clip":true,"strokeWidth":26,"opacity":0.35,"interpolate":"monotone","strokeCap":"butt"},"encoding":{"detail":{"field":"arc"}}},
     {"data":{"name":"arcsA"},"mark":{"type":"line","clip":true,"strokeWidth":10,"opacity":0.75,"interpolate":"monotone","strokeCap":"butt"},"encoding":{"detail":{"field":"arc"}}},
     {"data":{"name":"cellsA"},"mark":{"type":"rect","width":8.4,"height":5.8}}
    ]},
   {"data":{"name":"box"},"mark":{"type":"rect","fill":null,"stroke":"#262626","strokeWidth":5},
    "encoding":{"x":{"field":"x","type":"quantitative","axis":{"orient":"top","values":[-2,0,2],"labels":false,"title":null,"offset":-14,"zindex":1}},"x2":{"field":"x2"},"y":{"field":"y","type":"quantitative","axis":{"orient":"right","values":[0,1,2,3,4,5,6,7],"labels":false,"title":null,"zindex":1}},"y2":{"field":"y2"}}}
  ]},
 {"width":125,"height":1174,
  "layer":[
   {"data":{"name":"bands"},"mark":{"type":"rect","height":19,"clip":true},
    "encoding":{"y":{"field":"v","type":"quantitative","scale":{"domain":[0,1],"nice":false},"axis":{"orient":"right","values":[0,0.2,0.4,0.6,0.8,1],"title":null,"labelPadding":37,"labelOffset":4,"tickSize":-11,"zindex":1}},
     "color":{"field":"v","type":"quantitative","legend":null,"scale":{"domain":[0,0.125,0.375,0.443,0.514,0.515,0.617,0.855,0.925,1],"range":["#00008B","#0000FF","#00FFFF","#00FFA0","#00FF66","#50FF50","#FFFF00","#FF0000","#FF0000","#8B0000"]}}}},
   {"data":{"name":"barbox"},"mark":{"type":"rect","fill":null,"stroke":"#262626","strokeWidth":5},
    "encoding":{"y":{"field":"lo","type":"quantitative"},"y2":{"field":"hi"}}}
  ]}
]},
{"spacing":82,"bounds":"flush","hconcat":[
 {"width":1239,"height":1174,
  "title":{"text":"(b)","orient":"bottom","anchor":"middle","dx":-48,"offset":82,"font":"Liberation Serif","fontSize":78,"fontWeight":"bold","color":"#000000"},
  "encoding":{
   "x":{"field":"x","type":"quantitative","scale":{"domain":[-3.02,3.02],"nice":false,"zero":false},"axis":{"values":[-2,0,2],"title":"x (m)","labelPadding":54,"titlePadding":19,"zindex":1}},
   "y":{"field":"y","type":"quantitative","scale":{"domain":[-0.02,7.02],"range":[1174,14],"nice":false,"zero":false},"axis":{"values":[0,1,2,3,4,5,6,7],"title":"y (m)","labelPadding":43,"titlePadding":14,"labelOffset":3,"zindex":1}}
  },
  "resolve":{"axis":{"x":"independent","y":"independent"}},
  "layer":[
   {"encoding":{"color":{"field":"v","type":"quantitative","legend":null,"scale":{"domain":[0,0.125,0.375,0.443,0.514,0.515,0.617,0.855,0.925,1],"range":["#00008B","#0000FF","#00FFFF","#00FFA0","#00FF66","#50FF50","#FFFF00","#FF0000","#FF0000","#8B0000"]}}},
    "layer":[
     {"data":{"name":"box"},"mark":"rect","encoding":{"x2":{"field":"x2"},"y2":{"field":"y2"}}},
     {"data":{"name":"arcsB"},"mark":{"type":"line","clip":true,"strokeWidth":10,"opacity":0.6,"interpolate":"monotone","strokeCap":"butt"},"encoding":{"detail":{"field":"arc"}}},
     {"data":{"name":"cellsB"},"mark":{"type":"rect","width":8.4,"height":5.8}}
    ]},
   {"data":{"name":"box"},"mark":{"type":"rect","fill":null,"stroke":"#262626","strokeWidth":5},
    "encoding":{"x":{"field":"x","type":"quantitative","axis":{"orient":"top","values":[-2,0,2],"labels":false,"title":null,"offset":-14,"zindex":1}},"x2":{"field":"x2"},"y":{"field":"y","type":"quantitative","axis":{"orient":"right","values":[0,1,2,3,4,5,6,7],"labels":false,"title":null,"zindex":1}},"y2":{"field":"y2"}}}
  ]},
 {"width":125,"height":1174,
  "layer":[
   {"data":{"name":"bands"},"mark":{"type":"rect","height":19,"clip":true},
    "encoding":{"y":{"field":"v","type":"quantitative","scale":{"domain":[0,1],"nice":false},"axis":{"orient":"right","values":[0,0.2,0.4,0.6,0.8,1],"title":null,"labelPadding":37,"labelOffset":4,"tickSize":-11,"zindex":1}},
     "color":{"field":"v","type":"quantitative","legend":null,"scale":{"domain":[0,0.125,0.375,0.443,0.514,0.515,0.617,0.855,0.925,1],"range":["#00008B","#0000FF","#00FFFF","#00FFA0","#00FF66","#50FF50","#FFFF00","#FF0000","#FF0000","#8B0000"]}}}},
   {"data":{"name":"barbox"},"mark":{"type":"rect","fill":null,"stroke":"#262626","strokeWidth":5},
    "encoding":{"y":{"field":"lo","type":"quantitative"},"y2":{"field":"hi"}}}
  ]}
]}
]
}
